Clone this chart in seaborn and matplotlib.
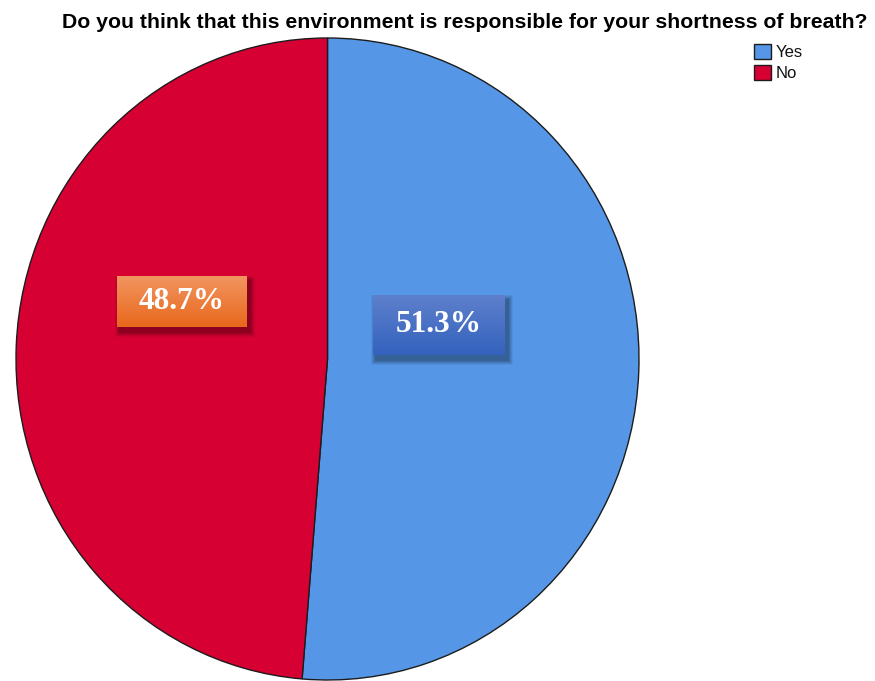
import numpy as np
import matplotlib
matplotlib.use("Agg")
import matplotlib.pyplot as plt
from matplotlib.patches import Rectangle, Patch
import seaborn as sns

# Survey answers and their shares (%)
categories = ["Yes", "No"]
percentages = [51.3, 48.7]
slice_colors = ["#5596E6", "#D70033"]
title = "Do you think that this environment is responsible for your shortness of breath?"

sns.set_theme(style="white")
plt.rcParams["font.family"] = ["Liberation Sans", "DejaVu Sans"]
palette = sns.color_palette(slice_colors)

W, H = 875, 681
fig = plt.figure(figsize=(W / 100, H / 100), dpi=100)
fig.patch.set_facecolor("white")

# Pie area in pixel terms: slightly taller than wide
cx, cy, rx, ry = 327.5, 359.0, 311.5, 321.0
ax = fig.add_axes([(cx - rx) / W, (H - cy - ry) / H, 2 * rx / W, 2 * ry / H])

wedges, _ = ax.pie(
    percentages,
    colors=palette,
    startangle=90,
    counterclock=False,
    wedgeprops=dict(edgecolor="#1c1c1c", linewidth=1.0),
)
ax.set_aspect("auto")
ax.set_xlim(-1, 1)
ax.set_ylim(-1, 1)
ax.axis("off")


def px_to_data(x, y):
    return (x - cx) / rx, (cy - y) / ry


def label_box(text, x0, y0, x1, y1, top, bottom):
    """Gradient label box with a soft drop shadow, given in pixel corners."""
    dx0, dy1 = px_to_data(x0, y0)
    dx1, dy0 = px_to_data(x1, y1)
    # soft shadow built from stacked translucent rectangles
    for grow, a in [(5, 0.05), (4, 0.07), (3, 0.08), (2, 0.09), (1, 0.10)]:
        sx0, sy1 = px_to_data(x0 - grow + 3, y0 - grow + 5)
        sx1, sy0 = px_to_data(x1 + grow + 3, y1 + grow + 5)
        ax.add_patch(Rectangle((sx0, sy0), sx1 - sx0, sy1 - sy0,
                               facecolor="black", alpha=a, edgecolor="none", zorder=4))
    t = np.array(matplotlib.colors.to_rgb(top))
    b = np.array(matplotlib.colors.to_rgb(bottom))
    f = np.linspace(0, 1, 64)[:, None]
    grad = (t * (1 - f) + b * f)[:, None, :]
    ax.imshow(grad, extent=(dx0, dx1, dy0, dy1), aspect="auto", origin="upper",
              zorder=5, interpolation="bilinear")
    ax.text((dx0 + dx1) / 2, (dy0 + dy1) / 2, text, ha="center", va="center",
            color="white", fontsize=22.5, fontweight="bold",
            family=["Liberation Serif", "DejaVu Serif"], zorder=6)


label_box(f"{percentages[1]:.1f}%", 117, 276, 247, 327, "#F29560", "#E8681C")
label_box(f"{percentages[0]:.1f}%", 373, 295, 505, 355, "#5E80CC", "#3462BE")
ax.set_xlim(-1, 1)
ax.set_ylim(-1, 1)

fig.text(465 / W, 1 - 22 / H, title, ha="center", va="center",
         fontsize=15.3, fontweight="bold", color="black")

handles = [Patch(facecolor=c, edgecolor="#1c1c1c", linewidth=1.0) for c in palette]
fig.legend(handles, categories, loc="upper left", bbox_to_anchor=(754 / W, 1 - 44 / H),
           frameon=False, fontsize=12, handlelength=1.0, handleheight=1.0,
           handletextpad=0.3, labelspacing=0.3, borderaxespad=0, borderpad=0,
           labelcolor="#111111")

fig.savefig("out.png", dpi=100, facecolor="white")
